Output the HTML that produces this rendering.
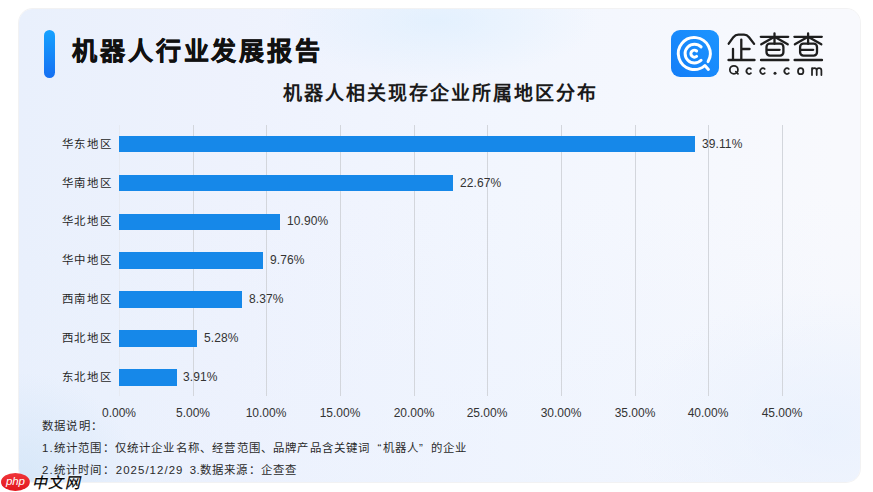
<!DOCTYPE html>
<html lang="zh-CN"><head><meta charset="utf-8">
<style>
*{margin:0;padding:0;box-sizing:border-box}
html,body{width:873px;height:492px;background:#fff;overflow:hidden;font-family:"Liberation Sans",sans-serif;color:#333}
.card{position:absolute;left:19px;top:9px;width:841px;height:473px;border-radius:14px;overflow:hidden;box-shadow:0 0 0 1px rgba(110,110,120,0.09);
background:
radial-gradient(ellipse 160px 58px at 418px 12px, rgba(214,236,254,0.5), rgba(214,236,254,0) 100%),
radial-gradient(ellipse 120px 110px at 0px 473px, rgba(205,226,246,0.65), rgba(205,226,246,0) 100%),
radial-gradient(ellipse 200px 140px at 810px 420px, rgba(228,238,254,0.55), rgba(228,238,254,0) 100%),
linear-gradient(180deg, rgba(232,240,254,0) 40%, rgba(232,240,254,0.35) 100%),
linear-gradient(90deg,#e9f0fc 0%,#eef2fd 25%,#f2f6fe 58%,#f8f9fd 97%)}
.abs{position:absolute;white-space:nowrap}
.bar-acc{position:absolute;left:43.5px;top:30px;width:11px;height:48px;border-radius:6px;background:linear-gradient(180deg,#16a2ff,#1670f2)}
.title{left:72px;top:35px;font-size:25px;font-weight:bold;color:#111;-webkit-text-stroke:0.55px #111;letter-spacing:2.9px;line-height:32px}
.sub{left:283px;top:82px;font-size:19px;font-weight:bold;color:#1a1a1a;line-height:24px;letter-spacing:2px}
.grid{position:absolute;top:124.5px;height:271.5px;width:1px;background:#d3d6dc}
.cat{position:absolute;right:760.6px;font-size:11.4px;color:#262626;line-height:16px;text-align:right;letter-spacing:1.65px}
.bar{position:absolute;left:119px;height:16.3px;background:#1688e9}
.val{position:absolute;font-size:12px;color:#333;line-height:16px;letter-spacing:0.1px}
.ax{position:absolute;top:405px;font-size:12px;color:#333;line-height:16px;width:60px;text-align:center}
.ql,.qr{display:inline-block;width:12px}.ql{text-align:right}.qr{text-align:left}
.wm{left:30.5px;top:473.2px;font-size:15px;color:#000;line-height:20px;letter-spacing:1.3px;-webkit-text-stroke:0.25px #000;text-shadow:0 0 1px #fff,0 0 2px #fff,0 0 2px #fff;transform:skewX(-13deg);transform-origin:0 100%}
.note{position:absolute;left:42px;font-size:11.4px;color:#2a2a2a;line-height:16px;letter-spacing:1.18px}
</style></head>
<body>
<div class="card"></div>
<div class="bar-acc"></div>
<div class="abs title">机器人行业发展报告</div>
<div class="abs sub">机器人相关现存企业所属地区分布</div>

<!-- logo -->
<svg style="position:absolute;left:671px;top:29.8px" width="48" height="47" viewBox="0 0 48 47">
<defs><linearGradient id="lg" x1="0" y1="1" x2="1" y2="0"><stop offset="0" stop-color="#147ef8"/><stop offset="1" stop-color="#1c95ff"/></linearGradient></defs>
<rect width="48" height="47" rx="9" fill="url(#lg)"/>
<g fill="none" stroke="#fff" stroke-width="3" stroke-linecap="round" stroke-linejoin="round">
<path d="M37.1 31.6 A16 16 0 1 0 33.9 35.5 L37.4 39.4"/>
<path d="M30.1 16.9 A9.4 9.4 0 1 0 30.1 30.3"/>
<path d="M25.6 21.0 A3.5 3.5 0 1 0 25.6 26.4"/>
</g>
</svg>
<svg style="position:absolute;left:720px;top:28px" width="110" height="52" viewBox="720 28 110 52">
<g fill="none" stroke="#1e1e1e" stroke-width="2.3" stroke-linecap="round" stroke-linejoin="round">
<path d="M728.7 43.7 L733.4 37.2 Q735.4 34.7 738.4 34.7 L744.0 34.7 Q747.0 34.7 749.0 37.2 L754.1 43.9"/>
<path d="M741.3 39.6 L741.3 59.6 M741.3 49 L749.6 49 M733 48.8 L733 59.6"/>
<g id="cha">
<path d="M760.8 36.8 L788.2 36.8 M774.5 33.4 L774.5 43.8 M773.2 37.4 L761.3 44.3 M775.8 37.4 L787.7 44.3 M779.6 49.8 L766.9 49.8"/>
<rect x="766.5" y="43.6" width="16.9" height="12.0" rx="3.3"/>
</g>
<use href="#cha" transform="translate(33.6 0)"/>
</g>
<path d="M728.6 60.1 L754.4 60.1 M761.1 60.1 L788.3 60.1 M794.7 60.1 L821.9 60.1" stroke="#1e1e1e" stroke-width="2.5" stroke-linecap="round"/>
<g fill="none" stroke="#222" stroke-width="1.75" stroke-linecap="round">
<circle cx="733.9" cy="69.8" r="4.05"/>
<path d="M735.8 71.7 L738 73.9"/>
<path d="M750.94 68.96 A2.6 2.95 0 1 0 750.94 73.14"/>
<path d="M764.74 68.96 A2.6 2.95 0 1 0 764.74 73.14"/>
<path d="M788.84 68.96 A2.6 2.95 0 1 0 788.84 73.14"/>
<ellipse cx="800.7" cy="71.15" rx="2.7" ry="3.05"/>
<path d="M812 75 L812 68.2 M812 70.4 Q812 68.1 814.35 68.1 Q816.7 68.1 816.7 70.4 L816.7 75 M816.7 70.4 Q816.7 68.1 819.05 68.1 Q821.4 68.1 821.4 70.4 L821.4 75"/>
</g>
<circle cx="775" cy="73.3" r="1.5" fill="#222"/>
</svg>

<!-- grid -->
<div class="grid" style="left:119px;background:#e6eaf2"></div>
<div class="grid" style="left:193px"></div>
<div class="grid" style="left:266px"></div>
<div class="grid" style="left:340px"></div>
<div class="grid" style="left:414px"></div>
<div class="grid" style="left:487px"></div>
<div class="grid" style="left:561px"></div>
<div class="grid" style="left:635px"></div>
<div class="grid" style="left:708px"></div>
<div class="grid" style="left:782px"></div>

<!-- categories -->
<div class="cat" style="top:136px">华东地区</div>
<div class="cat" style="top:175px">华南地区</div>
<div class="cat" style="top:213px">华北地区</div>
<div class="cat" style="top:252px">华中地区</div>
<div class="cat" style="top:291px">西南地区</div>
<div class="cat" style="top:330px">西北地区</div>
<div class="cat" style="top:369px">东北地区</div>

<div class="bar" style="top:135.60px;width:576.3px"></div>
<div class="bar" style="top:174.55px;width:334px"></div>
<div class="bar" style="top:213.50px;width:160.6px"></div>
<div class="bar" style="top:252.45px;width:143.8px"></div>
<div class="bar" style="top:291.40px;width:123.3px"></div>
<div class="bar" style="top:330.35px;width:77.8px"></div>
<div class="bar" style="top:369.30px;width:57.6px"></div>

<div class="val" style="top:136px;left:702px">39.11%</div>
<div class="val" style="top:175px;left:460px">22.67%</div>
<div class="val" style="top:213px;left:287px">10.90%</div>
<div class="val" style="top:252px;left:270px">9.76%</div>
<div class="val" style="top:291px;left:249px">8.37%</div>
<div class="val" style="top:330px;left:204px">5.28%</div>
<div class="val" style="top:369px;left:183px">3.91%</div>

<div class="ax" style="left:89px">0.00%</div>
<div class="ax" style="left:163px">5.00%</div>
<div class="ax" style="left:236px">10.00%</div>
<div class="ax" style="left:310px">15.00%</div>
<div class="ax" style="left:384px">20.00%</div>
<div class="ax" style="left:457px">25.00%</div>
<div class="ax" style="left:531px">30.00%</div>
<div class="ax" style="left:605px">35.00%</div>
<div class="ax" style="left:678px">40.00%</div>
<div class="ax" style="left:752px">45.00%</div>

<div class="note" style="top:418px">数据说明：</div>
<div class="note" style="top:440px">1.统计范围：仅统计企业名称、经营范围、品牌产品含关键词<span class="ql">“</span>机器人<span class="qr">”</span>的企业</div>
<div class="note" style="top:462px">2.统计时间：<span style="margin-left:1px;letter-spacing:1.07px">2025/12/29</span>&nbsp;<span style="margin-left:2px;letter-spacing:0.3px">3.</span>数据来源：企查查</div>

<!-- watermark -->
<svg style="position:absolute;left:0;top:470px" width="40" height="22" viewBox="0 470 40 22">
<defs><linearGradient id="rg" x1="0" y1="0" x2="0" y2="1"><stop offset="0" stop-color="#f0353a"/><stop offset="1" stop-color="#e3161c"/></linearGradient></defs>
<ellipse cx="15.4" cy="481.9" rx="14.4" ry="9" fill="url(#rg)"/>
<text x="15.3" y="484.6" font-family="Liberation Sans" font-style="italic" font-size="11.5" fill="#fff" text-anchor="middle" letter-spacing="-0.2">php</text>
</svg>
<div class="abs wm">中文网</div>
</body></html>
